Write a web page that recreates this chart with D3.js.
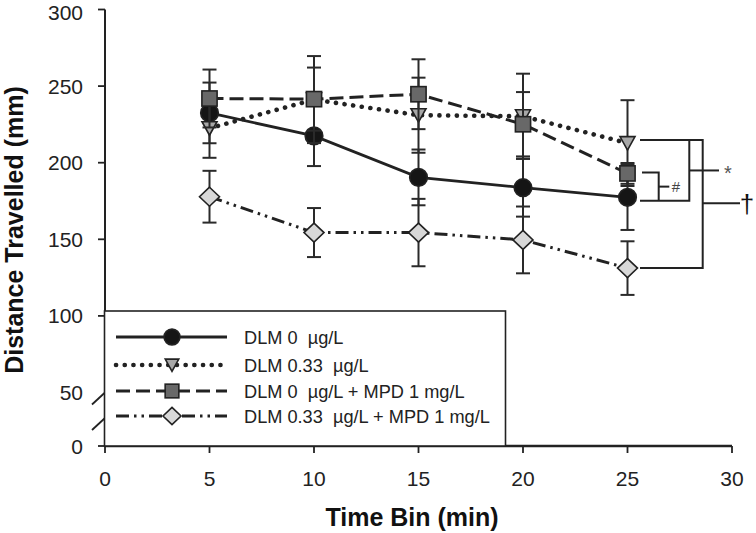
<!DOCTYPE html>
<html><head><meta charset="utf-8">
<script src="https://cdn.jsdelivr.net/npm/d3@7"></script>
<style>body{margin:0;background:#fff}svg{display:block}text{font-family:"Liberation Sans",Arial,sans-serif}</style>
</head><body>
<svg id="c" width="756" height="533"></svg>
<script>
// ---- data ----
const timeBins = [5, 10, 15, 20, 25];
const seriesNames = ["DLM 0  µg/L", "DLM 0.33  µg/L", "DLM 0  µg/L + MPD 1 mg/L", "DLM 0.33  µg/L + MPD 1 mg/L"];
const dlm0 = [232.5, 217.5, 190.4, 183.7, 177.4];
const dlm0Err = [19.8, 19.7, 18.2, 18.9, 21.3];
const dlm033 = [222.5, 241.2, 231, 230.3, 212.8];
const dlm033Err = [19.3, 28.4, 24.5, 27.8, 28];
const dlm0Mpd = [241.9, 241.5, 244.7, 225.1, 193];
const dlm0MpdErr = [18.9, 20.6, 22.8, 21, 6.8];
const dlm033Mpd = [177.8, 154.4, 154.4, 149.6, 131.2];
const dlm033MpdErr = [16.9, 16, 22, 21.8, 17.5];
const xTicks = [0, 5, 10, 15, 20, 25, 30];
const yTicks = [0, 50, 100, 150, 200, 250, 300];

// ---- layout ----
const svg = d3.select("#c");
const x = d3.scaleLinear().domain([0, 30]).range([105, 732]);
const y = d3.scaleLinear().domain([0, 50, 300]).range([446, 392.5, 9.5]);
const ink = "#222";

const series = [
  {name: seriesNames[0], vals: dlm0, err: dlm0Err, dash: null, width: 2.8, shape: "circle", fill: "#151515"},
  {name: seriesNames[1], vals: dlm033, err: dlm033Err, dash: "0.1,8.6", width: 4.6, cap: "round", shape: "triangle", fill: "#a8a8a8"},
  {name: seriesNames[2], vals: dlm0Mpd, err: dlm0MpdErr, dash: "14,6", width: 3, shape: "square", fill: "#686868"},
  {name: seriesNames[3], vals: dlm033Mpd, err: dlm033MpdErr, dash: "13,5,2.5,5,2.5,5", width: 3, shape: "diamond", fill: "#d8d8d8"}
];

function marker(g, shape, cx, cy, fill, s) {
  s = s || 1;
  let el;
  if (shape === "circle") el = g.append("circle").attr("cx", cx).attr("cy", cy).attr("r", 8.8 * s);
  else if (shape === "square") el = g.append("rect").attr("x", cx - 7.6 * s).attr("y", cy - 7.6 * s).attr("width", 15.2 * s).attr("height", 15.2 * s);
  else if (shape === "triangle") el = g.append("path").attr("d", `M${cx - 7.5 * s},${cy - 6.5 * s}L${cx + 7.5 * s},${cy - 6.5 * s}L${cx},${cy + 7 * s}Z`);
  else el = g.append("path").attr("d", `M${cx},${cy - 9.5 * s}L${cx + 10 * s},${cy}L${cx},${cy + 9.5 * s}L${cx - 10 * s},${cy}Z`);
  el.attr("fill", fill).attr("stroke", ink).attr("stroke-width", 1.6);
}

// ---- axes ----
const gAxes = svg.append("g");
gAxes.append("line").attr("x1", x(0)).attr("x2", x(0)).attr("y1", y(300)).attr("y2", y(0)).attr("stroke", ink).attr("stroke-width", 2);
gAxes.append("line").attr("x1", x(0)).attr("x2", x(30)).attr("y1", y(0)).attr("y2", y(0)).attr("stroke", ink).attr("stroke-width", 2.4);
yTicks.forEach(t => {
  if (t !== 50) gAxes.append("line").attr("x1", x(0) - 7).attr("x2", x(0)).attr("y1", y(t)).attr("y2", y(t)).attr("stroke", ink).attr("stroke-width", 1.8);
  gAxes.append("text").attr("x", 83).attr("y", t === 300 ? 20 : y(t)).attr("dy", t === 300 ? 0 : "0.36em").attr("text-anchor", "end")
    .attr("font-size", 21).attr("fill", "#222").text(t);
});
xTicks.forEach(t => {
  gAxes.append("line").attr("x1", x(t)).attr("x2", x(t)).attr("y1", y(0)).attr("y2", y(0) + 7).attr("stroke", ink).attr("stroke-width", 1.8);
  gAxes.append("text").attr("x", x(t)).attr("y", 486).attr("text-anchor", "middle")
    .attr("font-size", 21).attr("fill", "#222").text(t);
});
// axis break marks
[y(50), y(50) + 25.5].forEach(yy => {
  gAxes.append("line").attr("x1", x(0)).attr("y1", yy).attr("x2", x(0) - 13).attr("y2", yy + 12).attr("stroke", ink).attr("stroke-width", 1.8);
});
gAxes.append("text").attr("x", 412).attr("y", 526).attr("text-anchor", "middle").attr("font-size", 25)
  .attr("font-weight", "bold").attr("fill", "#111").text("Time Bin (min)");
gAxes.append("text").attr("transform", "translate(23,230) rotate(-90)").attr("text-anchor", "middle").attr("font-size", 25)
  .attr("font-weight", "bold").attr("fill", "#111").text("Distance Travelled (mm)");

// ---- lines ----
const line = d3.line().x((d, i) => x(timeBins[i])).y(d => y(d));
series.forEach(s => {
  svg.append("path").datum(s.vals).attr("d", line).attr("fill", "none").attr("stroke", ink)
    .attr("stroke-width", s.width).attr("stroke-dasharray", s.dash).attr("stroke-linecap", s.cap || "butt");
});

// ---- error bars + markers ----
series.forEach(s => {
  const g = svg.append("g");
  s.vals.forEach((v, i) => {
    const cx = x(timeBins[i]);
    const y1 = y(v + s.err[i]), y2 = y(v - s.err[i]);
    g.append("line").attr("x1", cx).attr("x2", cx).attr("y1", y1).attr("y2", y2).attr("stroke", "#2a2a2a").attr("stroke-width", 2);
    [y1, y2].forEach(yy => g.append("line").attr("x1", cx - 7).attr("x2", cx + 7).attr("y1", yy).attr("y2", yy).attr("stroke", "#2a2a2a").attr("stroke-width", 2));
  });
  s.vals.forEach((v, i) => marker(g, s.shape, x(timeBins[i]), y(v), s.fill));
});

// ---- significance brackets ----
const gB = svg.append("g").attr("stroke", ink).attr("stroke-width", 2).attr("fill", "none");
const last = i => y(series[i].vals[4]);
const yT = last(1) - 3, yS = last(2) - 1, yC = last(0) + 3.5, yD = last(3);
const bx0 = 640;
gB.append("path").attr("d", `M${bx0},${yT}H702.7V${yD}H${bx0}`);
gB.append("path").attr("d", `M689.3,${yT}V${yC}H${bx0}`);
gB.append("path").attr("d", `M${bx0 + 2},${yS}H658.7V${yC}`);
gB.append("path").attr("d", `M658.7,${(yS + yC) / 2}H669.3`);
gB.append("path").attr("d", `M689.3,${(yT + yC) / 2}H719`);
gB.append("path").attr("d", `M702.7,${(yT + yD) / 2 - 0.8}H740`);
svg.append("text").attr("x", 728).attr("y", (yT + yC) / 2 + 10).attr("text-anchor", "middle").attr("font-family", "DejaVu Serif, serif").attr("font-size", 20).attr("fill", "#555").text("*");
svg.append("text").attr("x", 676).attr("y", (yS + yC) / 2 + 5).attr("text-anchor", "middle").attr("font-family", "Liberation Serif, serif").attr("font-size", 15).attr("fill", "#444").text("#");
svg.append("text").attr("x", 747).attr("y", (yT + yD) / 2 + 9).attr("text-anchor", "middle").attr("font-family", "Liberation Serif, serif").attr("font-size", 26).attr("fill", "#111").text("†");

// ---- legend ----
const gL = svg.append("g");
gL.append("rect").attr("x", 104.5).attr("y", 311).attr("width", 401).attr("height", 135).attr("fill", "#fff").attr("stroke", ink).attr("stroke-width", 1.6);
const rows = [337, 365, 391, 416];
series.forEach((s, i) => {
  gL.append("line").attr("x1", 116).attr("x2", 227).attr("y1", rows[i]).attr("y2", rows[i]).attr("stroke", ink)
    .attr("stroke-width", s.width).attr("stroke-dasharray", s.dash).attr("stroke-linecap", s.cap || "butt");
  marker(gL, s.shape, 172, rows[i], s.fill, 0.9);
  gL.append("text").attr("x", 244).attr("y", rows[i]).attr("dy", "0.36em").attr("font-size", 18.2).attr("fill", "#222")
    .style("white-space", "pre").text(s.name);
});
</script>
</body></html>
